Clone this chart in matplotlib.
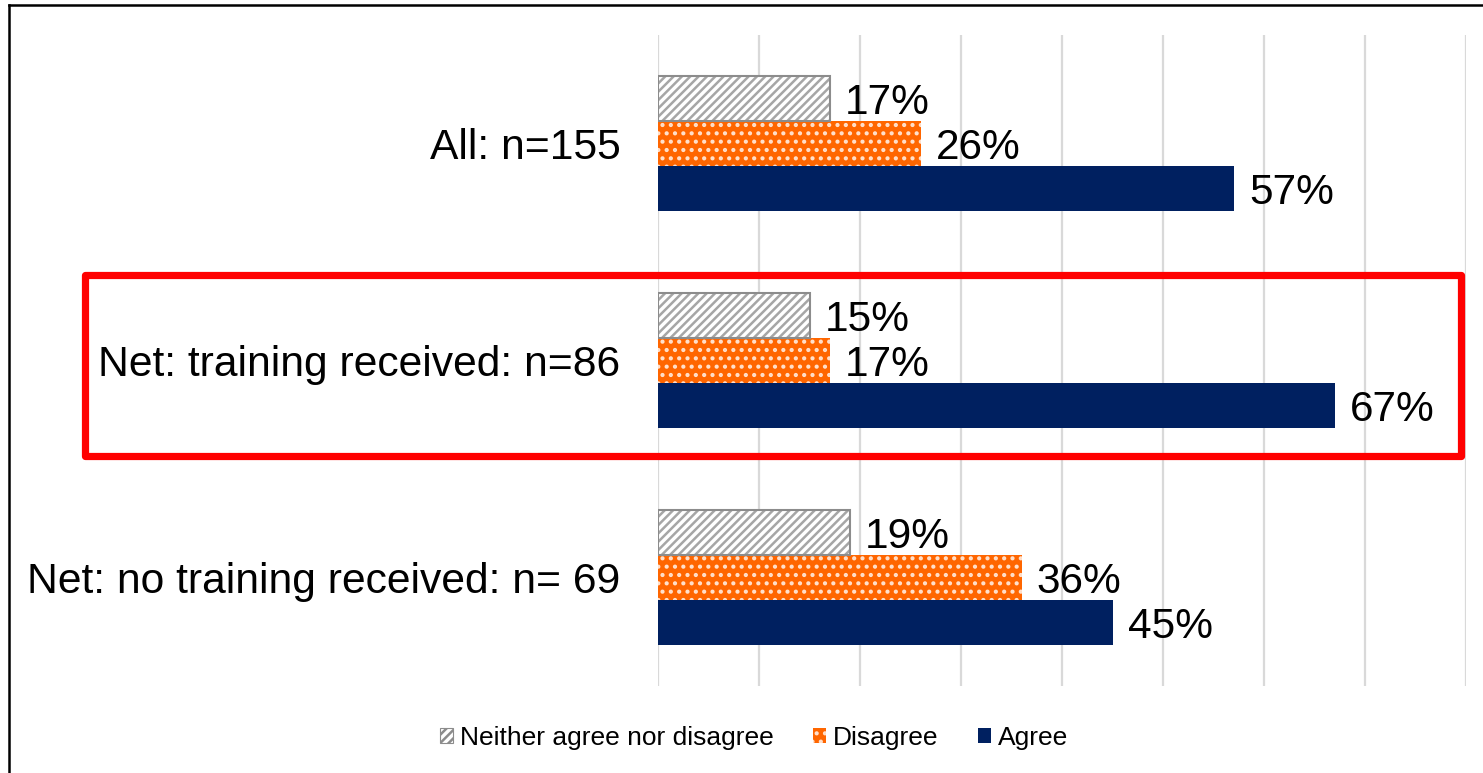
import matplotlib.pyplot as plt
import numpy as np
from matplotlib.patches import Rectangle, Patch
from matplotlib.lines import Line2D

plt.rcParams['font.family'] = ['Liberation Sans', 'DejaVu Sans']
plt.rcParams['hatch.linewidth'] = 1.8

groups = ['All: n=155', 'Net: training received: n=86', 'Net: no training received: n= 69']
series = ['Neither agree nor disagree', 'Disagree', 'Agree']
neither = [17, 15, 19]
disagree = [26, 17, 36]
agree = [57, 67, 45]

W, H = 1483, 773
fig = plt.figure(figsize=(W / 100, H / 100), dpi=100)
ax = fig.add_axes([658 / W, (H - 686) / H, (1466 - 658) / W, (686 - 35) / H])

y = np.arange(len(groups))
bh = 0.207

ax.barh(y - bh, neither, height=bh, color='white', edgecolor='#a6a6a6',
        hatch='////', linewidth=0, zorder=3)
ax.barh(y - bh, neither, height=bh, color='none', edgecolor='#8c8c8c',
        linewidth=1.5, zorder=4)
ax.barh(y, disagree, height=bh, color='#ff6600', edgecolor='#ffe0cc',
        hatch='..', linewidth=0, zorder=3)
ax.barh(y + bh, agree, height=bh, color='#002060', linewidth=0, zorder=3)

for vals, off in [(neither, -bh), (disagree, 0), (agree, bh)]:
    for i, v in enumerate(vals):
        ax.text(v + 1.5, y[i] + off + 0.02, f'{v}%', va='center', ha='left',
                fontsize=30.5, color='black')

ax.set_xlim(0, 80)
ax.set_ylim(2.5, -0.5)
ax.set_xticks(np.arange(0, 81, 10))
ax.set_xticklabels([])
ax.set_yticks(y)
ax.set_yticklabels(groups, fontsize=30.7)
ax.tick_params(axis='both', length=0)
ax.tick_params(axis='y', pad=27)
ax.grid(axis='x', color='#d9d9d9', linewidth=1.6, zorder=0)
for s in ax.spines.values():
    s.set_visible(False)

handles = [Patch(facecolor='white', edgecolor='#8c8c8c', hatch='////', linewidth=0.8),
           Patch(facecolor='#ff6600', edgecolor='#ffe0cc', hatch='..', linewidth=0),
           Patch(facecolor='#002060', linewidth=0)]
fig.legend(handles, series, loc='center', bbox_to_anchor=(754 / W, 1 - 738 / H),
           ncol=3, frameon=False, fontsize=19, handlelength=0.5, handleheight=0.5,
           handletextpad=0.25, columnspacing=1.5)

# highlight box around the trained group
fig.patches.append(Rectangle((85 / W, 1 - 456 / H), (1461 - 85) / W, (456 - 274.5) / H,
                             transform=fig.transFigure, fill=False, edgecolor='#ff0000',
                             linewidth=5.2, joinstyle='round', zorder=10))

# outer frame (left and top edges)
fig.lines.append(Line2D([9 / W, 9 / W], [0, 1 - 5 / H], transform=fig.transFigure,
                        color='black', linewidth=1.8))
fig.lines.append(Line2D([9 / W, 1], [1 - 5 / H, 1 - 5 / H], transform=fig.transFigure,
                        color='black', linewidth=1.8))

fig.savefig('out.png', dpi=100)
